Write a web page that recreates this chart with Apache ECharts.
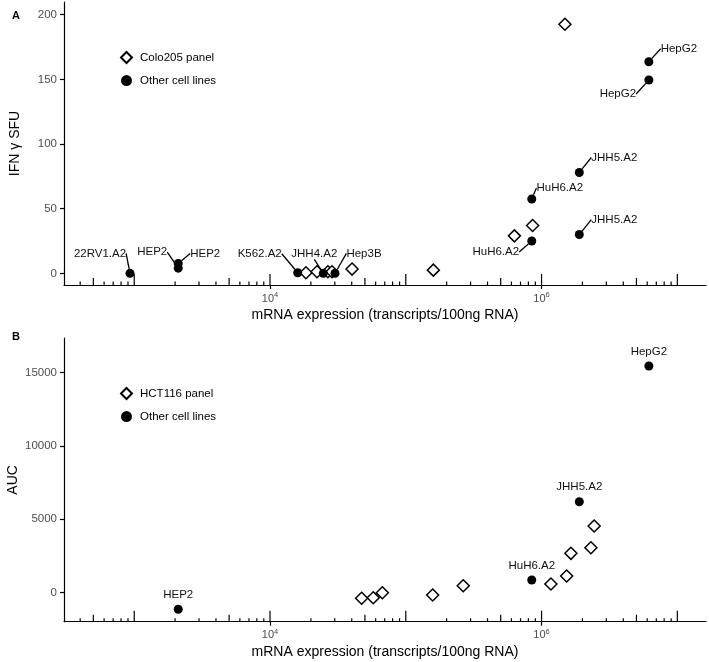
<!DOCTYPE html>
<html>
<head>
<meta charset="utf-8">
<script src="https://cdn.jsdelivr.net/npm/echarts@6/dist/echarts.min.js"></script>
<style>
  html, body { margin: 0; padding: 0; background: #fff; }
  #chart { width: 709px; height: 662px; }
</style>
</head>
<body>
<div id="chart"></div>
<script>
// ---- Panel A: IFN gamma SFU vs mRNA expression ----
const colo205X = [18400, 22200, 26700, 28600, 40200, 159600, 631000, 859000, 1486000];
const colo205Y = [0.5, 1.2, 1.2, 1.2, 3.3, 2.5, 29, 37, 192.6];

const otherANames = ['22RV1.A2', 'HEP2', 'HEP2', 'K562.A2', 'JHH4.A2', 'Hep3B',
  'HuH6.A2', 'HuH6.A2', 'JHH5.A2', 'JHH5.A2', 'HepG2', 'HepG2'];
const otherAX = [931, 2110, 2110, 16000, 24700, 30100,
  847000, 847000, 1897000, 1897000, 6170000, 6170000];
const otherAY = [0, 4, 7.7, 0.5, 0, 0, 25, 57.5, 78, 30, 163.6, 149.5];
// where each repelled label sits, relative to its point (px)
const otherALabelShift = [[-30, -20], [-26, -16], [27, -10], [-38, -19], [-9, -20], [29, -20],
  [-36, 11], [28, -11], [35, -15], [35, -15], [30, -13], [-31, 14]];

// ---- Panel B: AUC vs mRNA expression ----
const hct116X = [47300, 57600, 67200, 157800, 265000, 1172000, 1530000, 1645000, 2310000, 2440000];
const hct116Y = [-381, -340, 0, -157, 477, 592, 1137, 2683, 3064, 4542];

const otherBNames = ['HEP2', 'HuH6.A2', 'JHH5.A2', 'HepG2'];
const otherBX = [2110, 847000, 1897000, 6170000];
const otherBY = [-1130, 865, 6197, 15440];

// axes
const xMin = 304, xMax = 16260000;
const xLabelValues = [1e4, 1e6];
const yMinA = -9, yMaxA = 209.8;
const yTicksA = [0, 50, 100, 150, 200];
const yMinB = -1975, yMaxB = 17350;
const yTicksB = [0, 5000, 10000, 15000];

// log tick marks at 1..9 x 10^k inside the axis range
const logTickVals = [];
for (let k = 2; k <= 7; k++) {
  for (let m = 1; m <= 9; m++) {
    const v = m * Math.pow(10, k);
    if (v >= xMin && v <= xMax) logTickVals.push(v);
  }
}

const FONT = 'Liberation Sans, Arial, sans-serif';

function toPoints(xs, ys, names) {
  return xs.map((x, i) => ({ name: names ? names[i] : '', value: [x, ys[i]] }));
}

function xAxisFor(gridIndex) {
  return {
    type: 'log', logBase: 10, gridIndex, min: xMin, max: xMax,
    name: 'mRNA expression (transcripts/100ng RNA)',
    nameLocation: 'middle', nameGap: 23, nameMoveOverlap: false,
    nameTextStyle: { color: '#000', fontSize: 14, fontFamily: FONT },
    axisLine: { onZero: false, lineStyle: { color: '#000', width: 1.2 } },
    axisTick: { customValues: xLabelValues, length: 4, lineStyle: { color: '#000', width: 1.2 } },
    axisLabel: {
      customValues: xLabelValues, margin: 6,
      formatter: v => '{b|10}{s|' + Math.round(Math.log10(v)) + '}',
      rich: {
        b: { fontSize: 11, color: '#4d4d4d', fontFamily: FONT },
        s: { fontSize: 7.5, color: '#4d4d4d', fontFamily: FONT, padding: [0, 0, 7, 0] }
      }
    },
    splitLine: { show: false }, minorTick: { show: false }
  };
}

function yAxisFor(gridIndex, min, max, ticks, name, gap) {
  return {
    type: 'value', gridIndex, min, max,
    name, nameLocation: 'middle', nameGap: gap, nameMoveOverlap: false,
    nameTextStyle: { color: '#000', fontSize: 14, fontFamily: FONT },
    axisLine: { show: true, onZero: false, lineStyle: { color: '#000', width: 1.2 } },
    axisTick: { show: true, customValues: ticks, length: 4, lineStyle: { color: '#000', width: 1.2 } },
    axisLabel: {
      customValues: ticks, margin: 7, fontSize: 11.5, color: '#4d4d4d', fontFamily: FONT,
      formatter: v => String(v)
    },
    splitLine: { show: false }
  };
}

function logTickSeries(idx, yMin) {
  return {
    type: 'custom', xAxisIndex: idx, yAxisIndex: idx, silent: true, z: 1,
    data: logTickVals.map(v => [v, yMin]),
    encode: { x: 0, y: 1 },
    renderItem: (params, api) => {
      const v = api.value(0);
      const p = api.coord([v, api.value(1)]);
      const m = Math.round(v / Math.pow(10, Math.floor(Math.log10(v) + 1e-9)));
      const len = m === 1 ? 11 : (m === 5 ? 7 : 3.5);
      return {
        type: 'line',
        shape: { x1: p[0], y1: p[1], x2: p[0], y2: p[1] - len },
        style: { stroke: '#000', lineWidth: 1.2 }
      };
    }
  };
}

const diamondStyle = { color: '#fff', borderColor: '#000', borderWidth: 1.5, opacity: 1 };
const dotStyle = { color: '#000', opacity: 1 };

const chart = echarts.init(document.getElementById('chart'), null, { renderer: 'canvas' });

chart.setOption({
  backgroundColor: '#fff',
  animation: false,
  textStyle: { fontFamily: FONT },
  title: [
    { text: 'A', left: 7, top: 5, textStyle: { fontSize: 11, fontWeight: 'bold', color: '#000', fontFamily: FONT } },
    { text: 'B', left: 7, top: 326, textStyle: { fontSize: 11, fontWeight: 'bold', color: '#000', fontFamily: FONT } }
  ],
  legend: [
    {
      data: ['Colo205 panel', 'Other cell lines'], orient: 'vertical',
      left: 115, top: 46, itemWidth: 11, itemHeight: 11, itemGap: 10.6,
      textStyle: { fontSize: 11.5, color: '#000', fontFamily: FONT, padding: [0, 0, 0, 3] }
    },
    {
      data: ['HCT116 panel', 'Other cell lines'], orient: 'vertical',
      left: 115, top: 382, itemWidth: 11, itemHeight: 11, itemGap: 10.6,
      textStyle: { fontSize: 11.5, color: '#000', fontFamily: FONT, padding: [0, 0, 0, 3] }
    }
  ],
  grid: [
    { left: 64, right: 3, top: 2, height: 283, outerBoundsMode: 'none' },
    { left: 64, right: 3, top: 338, height: 283.7, outerBoundsMode: 'none' }
  ],
  xAxis: [xAxisFor(0), xAxisFor(1)],
  yAxis: [
    yAxisFor(0, yMinA, yMaxA, yTicksA, 'IFN \u03b3 SFU', 42),
    yAxisFor(1, yMinB, yMaxB, yTicksB, 'AUC', 44)
  ],
  series: [
    logTickSeries(0, yMinA),
    logTickSeries(1, yMinB),
    {
      name: 'Colo205 panel', type: 'scatter', xAxisIndex: 0, yAxisIndex: 0,
      symbol: 'diamond', symbolSize: 12, itemStyle: diamondStyle, z: 3,
      data: toPoints(colo205X, colo205Y)
    },
    {
      name: 'Other cell lines', type: 'scatter', xAxisIndex: 0, yAxisIndex: 0,
      symbol: 'circle', symbolSize: 9, itemStyle: dotStyle, z: 4,
      data: toPoints(otherAX, otherAY, otherANames),
      label: {
        show: true, position: 'inside', formatter: '{b}',
        fontSize: 11.5, color: '#111', fontFamily: FONT
      },
      labelLine: { show: true, length2: 0, lineStyle: { color: '#000', width: 1.3 } },
      labelLayout: p => {
        const s = otherALabelShift[p.dataIndex];
        return {
          x: p.rect.x + p.rect.width / 2 + s[0],
          y: p.rect.y + p.rect.height / 2 + s[1],
          align: 'center', verticalAlign: 'middle'
        };
      }
    },
    {
      name: 'HCT116 panel', type: 'scatter', xAxisIndex: 1, yAxisIndex: 1,
      symbol: 'diamond', symbolSize: 12, itemStyle: diamondStyle, z: 3,
      data: toPoints(hct116X, hct116Y)
    },
    {
      name: 'Other cell lines', type: 'scatter', xAxisIndex: 1, yAxisIndex: 1,
      symbol: 'circle', symbolSize: 9, itemStyle: dotStyle, z: 4,
      data: toPoints(otherBX, otherBY, otherBNames),
      label: {
        show: true, position: 'top', distance: 4, formatter: '{b}',
        fontSize: 11.5, color: '#111', fontFamily: FONT
      }
    }
  ]
});

window.addEventListener('resize', () => chart.resize());
</script>
</body>
</html>
